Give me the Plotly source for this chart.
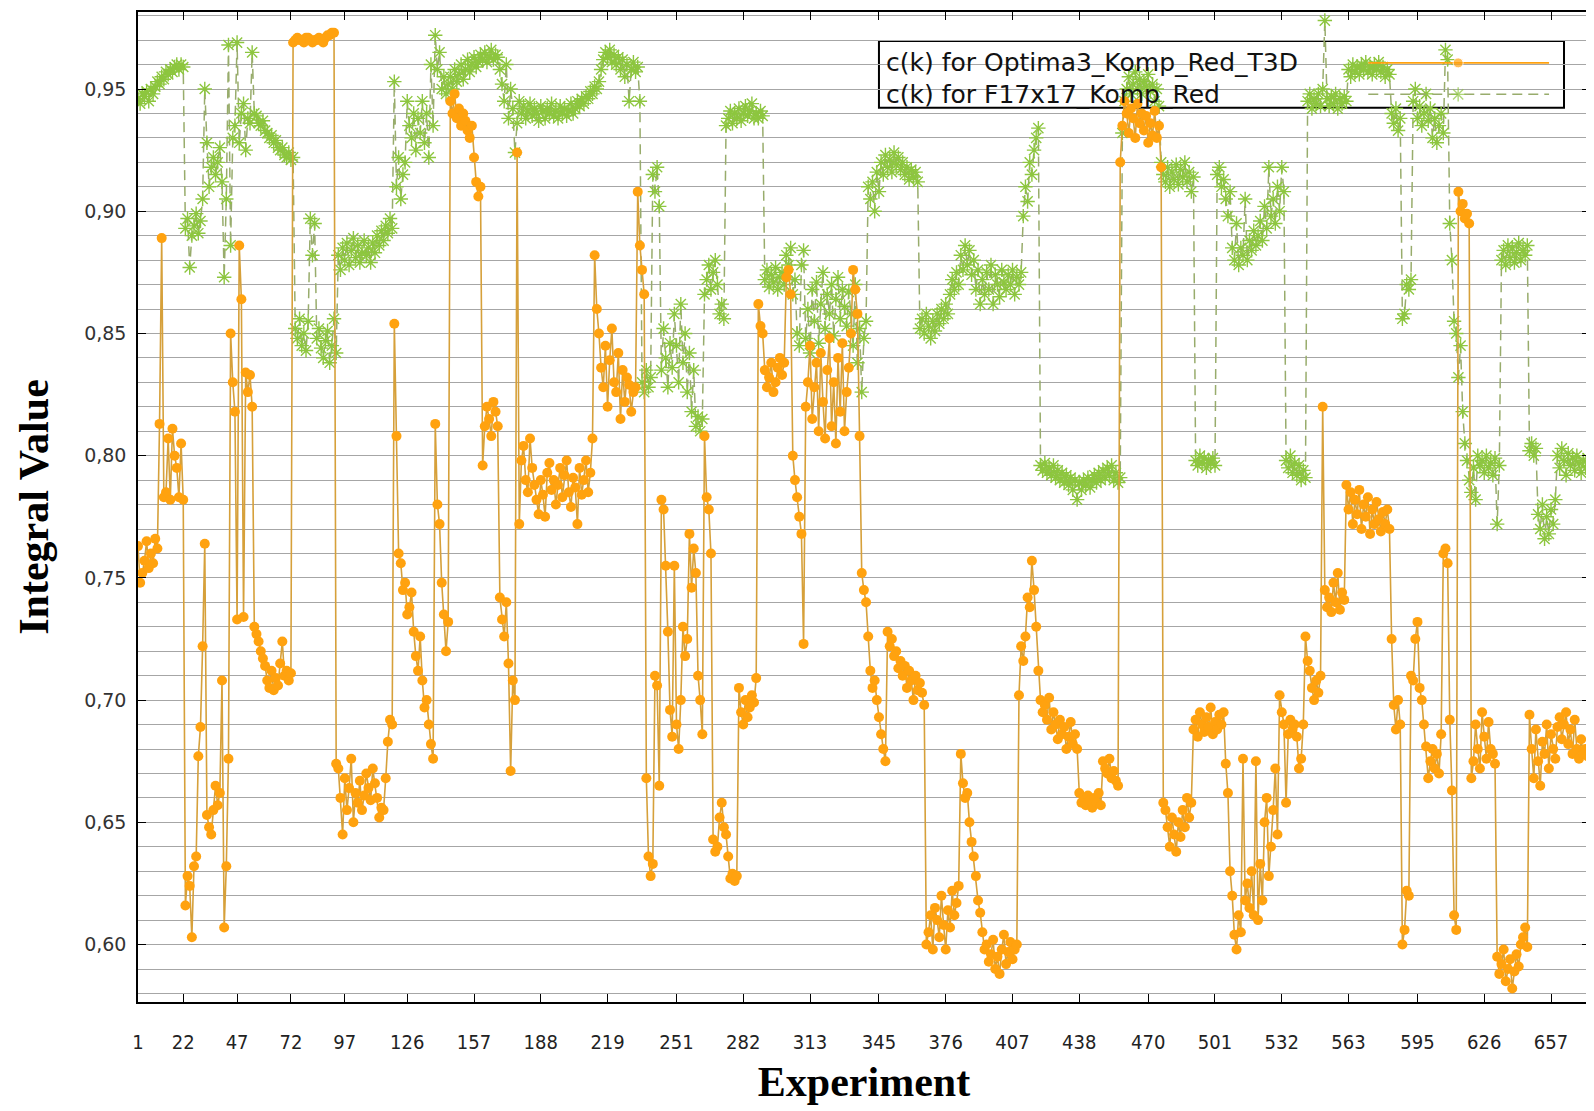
import plotly.graph_objects as go

# ---------------- data ----------------
experiments = list(range(1, 676))

x_tick_labels = [1, 22, 47, 72, 97, 126, 157, 188, 219, 251, 282, 313, 345,
                 376, 407, 438, 470, 501, 532, 563, 595, 626, 657]

series_names = ["c(k) for Optima3_Komp_Red_T3D", "c(k) for F17x17_Komp_Red"]

optima3 = [
    0.763, 0.748, 0.752, 0.757, 0.765, 0.754, 0.760, 0.756, 0.766, 0.762,
    0.813, 0.889, 0.783, 0.785, 0.807, 0.782, 0.811, 0.800, 0.795, 0.783,
    0.805, 0.782, 0.616, 0.628, 0.624, 0.603, 0.632, 0.636, 0.677, 0.689,
    0.722, 0.764, 0.653, 0.648, 0.645, 0.655, 0.665, 0.657, 0.662, 0.708,
    0.607, 0.632, 0.676, 0.850, 0.830, 0.818, 0.733, 0.886, 0.864, 0.734,
    0.834, 0.826, 0.833, 0.820, 0.730, 0.727, 0.724, 0.720, 0.717, 0.714,
    0.708, 0.705, 0.712, 0.704, 0.709, 0.706, 0.715, 0.724, 0.710, 0.712,
    0.708, 0.711, 0.969, 0.970, 0.971, 0.970, 0.970, 0.969, 0.971, 0.971,
    0.970, 0.969, 0.970, 0.970, 0.971, 0.970, 0.969, 0.971, 0.972, 0.972,
    0.973, 0.973, 0.674, 0.672, 0.660, 0.645, 0.668, 0.655, 0.664, 0.676,
    0.650, 0.662, 0.658, 0.667, 0.655, 0.661, 0.670, 0.664, 0.659, 0.672,
    0.666, 0.660, 0.652, 0.656, 0.655, 0.668, 0.683, 0.692, 0.690, 0.854,
    0.808, 0.760, 0.756, 0.745, 0.748, 0.735, 0.738, 0.744, 0.728, 0.718,
    0.712, 0.726, 0.708, 0.697, 0.700, 0.690, 0.682, 0.676, 0.813, 0.780,
    0.772, 0.748, 0.735, 0.720, 0.732, 0.945, 0.940, 0.948, 0.938, 0.942,
    0.935, 0.940, 0.937, 0.933, 0.930, 0.935, 0.922, 0.912, 0.906, 0.910,
    0.796, 0.812, 0.820, 0.815, 0.808, 0.822, 0.818, 0.812, 0.742, 0.733,
    0.726, 0.740, 0.715, 0.671, 0.708, 0.700, 0.924, 0.772, 0.798, 0.804,
    0.790, 0.785, 0.807, 0.795, 0.788, 0.782, 0.776, 0.790, 0.784, 0.775,
    0.793, 0.797, 0.786, 0.790, 0.780, 0.788, 0.795, 0.783, 0.792, 0.798,
    0.785, 0.779, 0.791, 0.787, 0.772, 0.795, 0.784, 0.790, 0.798, 0.785,
    0.793, 0.807, 0.882, 0.860, 0.850, 0.836, 0.828, 0.845, 0.820, 0.839,
    0.852, 0.830, 0.826, 0.842, 0.815, 0.835, 0.822, 0.832, 0.829, 0.818,
    0.826, 0.828, 0.908, 0.886, 0.876, 0.866, 0.668, 0.636, 0.628, 0.633,
    0.710, 0.706, 0.665, 0.782, 0.778, 0.755, 0.728, 0.696, 0.685, 0.755,
    0.690, 0.680, 0.700, 0.730, 0.718, 0.725, 0.768, 0.746, 0.762, 0.752,
    0.710, 0.700, 0.686, 0.808, 0.783, 0.778, 0.760, 0.643, 0.638, 0.640,
    0.652, 0.658, 0.648, 0.645, 0.636, 0.627, 0.629, 0.626, 0.628, 0.705,
    0.695, 0.690, 0.700, 0.693, 0.697, 0.702, 0.699, 0.709, 0.862, 0.853,
    0.850, 0.835, 0.828, 0.832, 0.838, 0.826, 0.830, 0.836, 0.840, 0.833,
    0.838, 0.873, 0.876, 0.866, 0.800, 0.790, 0.783, 0.775, 0.768, 0.723,
    0.820, 0.830, 0.845, 0.815, 0.828, 0.838, 0.810, 0.842, 0.822, 0.807,
    0.835, 0.848, 0.812, 0.830, 0.805, 0.840, 0.818, 0.846, 0.810, 0.826,
    0.836, 0.850, 0.876, 0.868, 0.858, 0.808, 0.752, 0.745, 0.740, 0.726,
    0.712, 0.705, 0.708, 0.700, 0.693, 0.686, 0.680, 0.675, 0.728, 0.722,
    0.725, 0.718, 0.720, 0.713, 0.716, 0.710, 0.714, 0.705, 0.712, 0.708,
    0.700, 0.710, 0.704, 0.707, 0.703, 0.698, 0.600, 0.605, 0.612, 0.598,
    0.615, 0.610, 0.603, 0.620, 0.608, 0.598, 0.614, 0.607, 0.622, 0.612,
    0.617, 0.624, 0.678, 0.666, 0.660, 0.662, 0.650, 0.642, 0.636, 0.628,
    0.618, 0.613, 0.605, 0.598, 0.600, 0.593, 0.596, 0.602, 0.590, 0.595,
    0.588, 0.598, 0.604, 0.592, 0.597, 0.601, 0.594, 0.598, 0.600, 0.702,
    0.722, 0.716, 0.726, 0.742, 0.738, 0.757, 0.745, 0.730, 0.712, 0.700,
    0.695, 0.698, 0.692, 0.701, 0.688, 0.695, 0.690, 0.684, 0.692, 0.686,
    0.689, 0.680, 0.685, 0.691, 0.682, 0.686, 0.680, 0.662, 0.658, 0.660,
    0.657, 0.661, 0.659, 0.656, 0.660, 0.658, 0.662, 0.657, 0.675, 0.672,
    0.670, 0.676, 0.668, 0.671, 0.667, 0.665, 0.920, 0.935, 0.945, 0.940,
    0.932, 0.942, 0.938, 0.930, 0.944, 0.936, 0.940, 0.933, 0.939, 0.928,
    0.936, 0.931, 0.941, 0.930, 0.935, 0.918, 0.658, 0.655, 0.648, 0.640,
    0.652, 0.645, 0.638, 0.650, 0.644, 0.655, 0.648, 0.660, 0.652, 0.658,
    0.688, 0.692, 0.685, 0.695, 0.690, 0.687, 0.693, 0.689, 0.697, 0.686,
    0.691, 0.688, 0.694, 0.690, 0.695, 0.674, 0.662, 0.630, 0.620, 0.604,
    0.598, 0.612, 0.605, 0.676, 0.618, 0.625, 0.615, 0.630, 0.612, 0.675,
    0.610, 0.633, 0.618, 0.650, 0.660, 0.628, 0.640, 0.655, 0.672, 0.645,
    0.702, 0.695, 0.690, 0.658, 0.686, 0.692, 0.688, 0.690, 0.685, 0.672,
    0.676, 0.690, 0.726, 0.716, 0.712, 0.705, 0.700, 0.708, 0.703, 0.710,
    0.820, 0.745, 0.738, 0.742, 0.736, 0.748, 0.740, 0.752, 0.737, 0.744,
    0.741, 0.788, 0.778, 0.785, 0.772, 0.782, 0.776, 0.786, 0.770, 0.780,
    0.775, 0.783, 0.768, 0.778, 0.772, 0.781, 0.774, 0.769, 0.777, 0.772,
    0.778, 0.770, 0.725, 0.698, 0.688, 0.700, 0.690, 0.600, 0.606, 0.622,
    0.620, 0.710, 0.708, 0.725, 0.732, 0.705, 0.700, 0.690, 0.681, 0.668,
    0.675, 0.680, 0.672, 0.678, 0.670, 0.686, 0.760, 0.762, 0.756, 0.692,
    0.663, 0.612, 0.606, 0.908, 0.900, 0.903, 0.897, 0.899, 0.895, 0.668,
    0.675, 0.690, 0.680, 0.672, 0.695, 0.685, 0.676, 0.691, 0.680, 0.678,
    0.674, 0.595, 0.588, 0.592, 0.598, 0.585, 0.590, 0.594, 0.582, 0.589,
    0.596, 0.591, 0.600, 0.603, 0.607, 0.599, 0.694, 0.680, 0.668, 0.688,
    0.675, 0.665, 0.683, 0.678, 0.690, 0.672, 0.686, 0.680, 0.676, 0.689,
    0.693, 0.684, 0.690, 0.695, 0.682, 0.688, 0.678, 0.692, 0.680, 0.676,
    0.684, 0.678, 0.680, 0.677, 0.679,
]

f17x17 = [
    0.946, 0.944, 0.948, 0.947, 0.949, 0.945, 0.950, 0.948, 0.951, 0.953,
    0.952, 0.955, 0.954, 0.957, 0.956, 0.958, 0.957, 0.959, 0.960, 0.958,
    0.960, 0.959, 0.893, 0.897, 0.877, 0.890, 0.894, 0.899, 0.891, 0.896,
    0.905, 0.950, 0.928, 0.910, 0.918, 0.922, 0.915, 0.920, 0.926, 0.912,
    0.873, 0.905, 0.968, 0.886, 0.930, 0.935, 0.969, 0.928, 0.940, 0.944,
    0.925, 0.938, 0.936, 0.965, 0.940, 0.939, 0.936, 0.935, 0.937, 0.933,
    0.932, 0.930, 0.931, 0.928, 0.929, 0.926, 0.925, 0.926, 0.923, 0.922,
    0.924, 0.921, 0.922, 0.852, 0.848, 0.856, 0.845, 0.850, 0.843, 0.855,
    0.897, 0.882, 0.895, 0.848, 0.852, 0.844, 0.840, 0.847, 0.851, 0.838,
    0.845, 0.856, 0.842, 0.882, 0.876, 0.885, 0.880, 0.887, 0.878, 0.884,
    0.889, 0.881, 0.886, 0.879, 0.883, 0.888, 0.882, 0.885, 0.879, 0.887,
    0.883, 0.890, 0.886, 0.892, 0.888, 0.894, 0.891, 0.897, 0.893, 0.953,
    0.910, 0.922, 0.905, 0.915, 0.920, 0.945, 0.935, 0.930, 0.940, 0.925,
    0.938, 0.932, 0.945, 0.928, 0.940, 0.922, 0.960, 0.935, 0.972, 0.958,
    0.965, 0.950, 0.955, 0.948, 0.952, 0.955, 0.950, 0.958, 0.953, 0.956,
    0.960, 0.954, 0.958, 0.962, 0.957, 0.960, 0.963, 0.959, 0.961, 0.964,
    0.962, 0.965, 0.961, 0.963, 0.966, 0.962, 0.964, 0.963, 0.958, 0.952,
    0.945, 0.960, 0.938, 0.950, 0.942, 0.924, 0.936, 0.945, 0.940, 0.943,
    0.938, 0.941, 0.944, 0.939, 0.942, 0.940, 0.937, 0.943, 0.941, 0.938,
    0.942, 0.940, 0.944, 0.939, 0.941, 0.938, 0.943, 0.940, 0.942, 0.939,
    0.941, 0.944, 0.940, 0.942, 0.945, 0.943, 0.946, 0.944, 0.947, 0.946,
    0.949, 0.948, 0.951, 0.950, 0.953, 0.958, 0.962, 0.965, 0.963, 0.966,
    0.961, 0.964, 0.960, 0.963, 0.958, 0.962, 0.955, 0.960, 0.945, 0.958,
    0.961, 0.957, 0.959, 0.945, 0.830, 0.826, 0.835, 0.828, 0.832, 0.915,
    0.908, 0.918, 0.902, 0.835, 0.852, 0.840, 0.828, 0.846, 0.836, 0.858,
    0.845, 0.830, 0.862, 0.838, 0.850, 0.826, 0.842, 0.818, 0.835, 0.812,
    0.816, 0.810, 0.815, 0.866, 0.872, 0.878, 0.868, 0.875, 0.880, 0.870,
    0.858, 0.862, 0.856, 0.935, 0.938, 0.941, 0.936, 0.940, 0.938, 0.942,
    0.937, 0.940, 0.943, 0.939, 0.941, 0.944, 0.938, 0.940, 0.938, 0.941,
    0.939, 0.872, 0.876, 0.869, 0.874, 0.871, 0.877, 0.868, 0.873, 0.875,
    0.870, 0.882, 0.878, 0.885, 0.866, 0.872, 0.850, 0.845, 0.878, 0.884,
    0.848, 0.860, 0.842, 0.868, 0.855, 0.871, 0.846, 0.862, 0.875, 0.852,
    0.866, 0.858, 0.870, 0.849, 0.864, 0.873, 0.856, 0.868, 0.861, 0.853,
    0.867, 0.858, 0.845, 0.870, 0.838, 0.852, 0.826, 0.848, 0.855, 0.910,
    0.905, 0.912, 0.900, 0.916, 0.908, 0.920, 0.915, 0.923, 0.918, 0.921,
    0.916, 0.924, 0.919, 0.922, 0.917, 0.920, 0.915, 0.918, 0.913, 0.917,
    0.914, 0.916, 0.912, 0.852, 0.856, 0.850, 0.858, 0.853, 0.848, 0.855,
    0.851, 0.858, 0.854, 0.860, 0.856, 0.862, 0.858, 0.866, 0.872, 0.868,
    0.875, 0.870, 0.882, 0.876, 0.886, 0.878, 0.884, 0.874, 0.880, 0.868,
    0.876, 0.862, 0.872, 0.866, 0.875, 0.868, 0.878, 0.862, 0.874, 0.870,
    0.865, 0.876, 0.871, 0.868, 0.874, 0.870, 0.876, 0.866, 0.873, 0.870,
    0.875, 0.898, 0.910, 0.904, 0.920, 0.915, 0.925, 0.930, 0.934, 0.796,
    0.794, 0.797, 0.793, 0.795, 0.792, 0.796, 0.791, 0.794, 0.790, 0.793,
    0.789, 0.792, 0.788, 0.791, 0.786, 0.790, 0.782, 0.789, 0.786, 0.790,
    0.788, 0.791, 0.787, 0.790, 0.792, 0.789, 0.793, 0.790, 0.794, 0.791,
    0.795, 0.792, 0.796, 0.790, 0.793, 0.789, 0.791, 0.932, 0.945, 0.950,
    0.955, 0.948, 0.952, 0.957, 0.950, 0.954, 0.948, 0.953, 0.951, 0.956,
    0.949, 0.952, 0.945, 0.950, 0.943, 0.920, 0.915, 0.912, 0.918, 0.910,
    0.916, 0.913, 0.919, 0.911, 0.917, 0.914, 0.920, 0.912, 0.916, 0.908,
    0.914, 0.798, 0.796, 0.800, 0.797, 0.799, 0.795, 0.798, 0.797, 0.799,
    0.796, 0.915, 0.918, 0.910, 0.913, 0.905, 0.898, 0.908, 0.885, 0.880,
    0.895, 0.878, 0.885, 0.882, 0.905, 0.880, 0.888, 0.884, 0.892, 0.886,
    0.890, 0.896, 0.888, 0.902, 0.893, 0.918, 0.898, 0.905, 0.895, 0.910,
    0.900, 0.918, 0.908, 0.798, 0.795, 0.800, 0.793, 0.797, 0.792, 0.796,
    0.790, 0.794, 0.791, 0.945, 0.948, 0.942, 0.946, 0.944, 0.948, 0.943,
    0.950, 0.978, 0.946, 0.943, 0.947, 0.944, 0.948, 0.942, 0.946, 0.944,
    0.947, 0.945, 0.958, 0.955, 0.960, 0.957, 0.959, 0.956, 0.960, 0.958,
    0.961, 0.957, 0.959, 0.956, 0.960, 0.958, 0.961, 0.957, 0.959, 0.955,
    0.958, 0.956, 0.940, 0.936, 0.942, 0.933, 0.938, 0.856, 0.858, 0.870,
    0.868, 0.872, 0.945, 0.950, 0.938, 0.943, 0.935, 0.940, 0.948, 0.937,
    0.942, 0.930, 0.938, 0.928, 0.935, 0.940, 0.932, 0.966, 0.962, 0.895,
    0.880, 0.855, 0.850, 0.832, 0.845, 0.818, 0.805, 0.798, 0.790, 0.785,
    0.795, 0.782, 0.800, 0.796, 0.798, 0.793, 0.800, 0.795, 0.797, 0.792,
    0.799, 0.772, 0.796, 0.880, 0.884, 0.878, 0.886, 0.881, 0.885, 0.879,
    0.883, 0.887, 0.880, 0.884, 0.882, 0.886, 0.802, 0.805, 0.800, 0.803,
    0.776, 0.770, 0.780, 0.766, 0.775, 0.768, 0.778, 0.772, 0.782, 0.800,
    0.795, 0.803, 0.798, 0.792, 0.801, 0.796, 0.799, 0.794, 0.800, 0.797,
    0.793, 0.798, 0.795, 0.799, 0.796,
]

assert len(optima3) == len(experiments) == len(f17x17)

# ---------------- styling ----------------
ORANGE = "#FFA20F"
ORANGE_LINE = "#D6A03A"
GREEN = "#8DC63F"
GREEN_LINE = "#98AC6C"
GRID = "#A6A6A6"

fig = go.Figure()

fig.add_trace(go.Scatter(
    x=experiments, y=f17x17, mode="lines+markers", name=series_names[1],
    line=dict(color=GREEN_LINE, width=1.5, dash="10px,6px"),
    marker=dict(symbol="asterisk-open", size=12, color=GREEN,
                line=dict(color=GREEN, width=1.4)),
    showlegend=False,
))
fig.add_trace(go.Scatter(
    x=experiments, y=optima3, mode="lines+markers", name=series_names[0],
    line=dict(color=ORANGE_LINE, width=1.6),
    marker=dict(symbol="circle", size=10, color=ORANGE),
    showlegend=False,
))

# ---- custom legend (box, text on the left, line samples on the right) ----
lx0, lx1, ly0, ly1 = 0.5103, 0.9821, 0.9032, 0.9708
row_y = [0.9486, 0.9168]
text_x = 0.5135
samp = [0.8473, 0.9092, 0.9718]

fig.add_shape(type="rect", xref="paper", yref="paper", x0=lx0, x1=lx1, y0=ly0, y1=ly1,
              line=dict(color="black", width=2), fillcolor="white", layer="between")

for i, name in enumerate(series_names):
    fig.add_annotation(x=text_x, y=row_y[i], xref="paper", yref="paper", text=name,
                       showarrow=False, xanchor="left", yanchor="middle",
                       font=dict(family="DejaVu Sans", size=25, color="#111"))

fig.add_trace(go.Scatter(
    x=samp, y=[row_y[0]] * 3, xaxis="x2", yaxis="y2", mode="lines+markers",
    line=dict(color=ORANGE, width=1.6),
    marker=dict(symbol="circle", size=[0, 10, 0], color=ORANGE),
    showlegend=False, hoverinfo="skip",
))
fig.add_trace(go.Scatter(
    x=samp, y=[row_y[1]] * 3, xaxis="x2", yaxis="y2", mode="lines+markers",
    line=dict(color=GREEN_LINE, width=1.5, dash="10px,6px"),
    marker=dict(symbol="asterisk-open", size=[0, 12, 0], color=GREEN,
                line=dict(color=GREEN, width=1.4)),
    showlegend=False, hoverinfo="skip",
))

title_font = dict(family="Liberation Serif, Times New Roman, serif", size=42,
                  color="black", weight="bold")

# page body has an 8px margin: figure sized so it fills the 1594x1111 window
fig.update_layout(
    width=1586, height=1103,
    margin=dict(l=130, r=2, t=2, b=109),
    paper_bgcolor="white", plot_bgcolor="white",
    separators=",.",
    showlegend=False,
    xaxis=dict(
        range=[1, 675.1],
        tickmode="array", tickvals=x_tick_labels,
        ticktext=[str(v) for v in x_tick_labels],
        ticks="inside", ticklen=8, tickwidth=1, tickcolor="black",
        showline=True, linecolor="black", linewidth=1.5, mirror="ticks",
        showgrid=False, zeroline=False,
        tickfont=dict(family="Liberation Sans Narrow, DejaVu Sans Condensed, sans-serif",
                      size=20, color="#222"),
        ticklabelstandoff=21,
        title=dict(text="Experiment", font=title_font, standoff=14),
    ),
    yaxis=dict(
        range=[0.5765, 0.9815],
        tickmode="linear", tick0=0.60, dtick=0.05, tickformat=".2f",
        ticks="inside", ticklen=8, tickwidth=1, tickcolor="black",
        showline=True, linecolor="black", linewidth=1.5, mirror="ticks",
        showgrid=True, gridcolor=GRID, gridwidth=1, zeroline=False,
        minor=dict(tick0=0.60, dtick=0.01, showgrid=True, gridcolor=GRID, gridwidth=1),
        tickfont=dict(family="DejaVu Sans", size=19, color="#333"),
        ticklabelstandoff=6,
        title=dict(text="Integral Value", font=title_font, standoff=22),
    ),
    xaxis2=dict(overlaying="x", range=[0, 1], visible=False, showgrid=False),
    yaxis2=dict(overlaying="y", range=[0, 1], visible=False, showgrid=False),
)

fig.write_html("out.html")
